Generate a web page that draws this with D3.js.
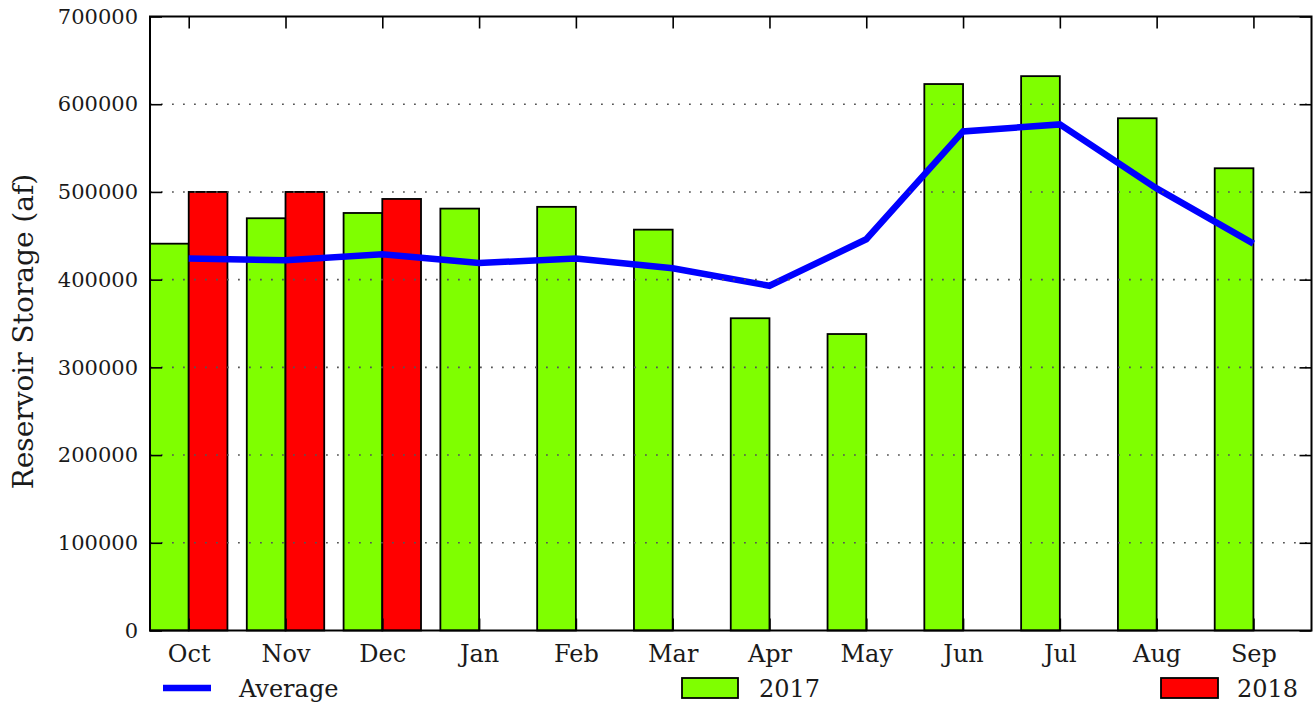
<!DOCTYPE html>
<html>
<head>
<meta charset="utf-8">
<script src="https://cdn.jsdelivr.net/npm/d3@7"></script>
<style>
  html, body { margin: 0; padding: 0; background: #fff; }
  svg { display: block; }
  text { font-family: "DejaVu Serif", "Liberation Serif", serif; fill: #1a1a1a; }
</style>
</head>
<body>
<svg id="chart" width="1314" height="704"></svg>
<script>
// Monthly reservoir storage (acre-feet), water year Oct–Sep
const months = ["Oct", "Nov", "Dec", "Jan", "Feb", "Mar", "Apr", "May", "Jun", "Jul", "Aug", "Sep"];
const storage2017 = [441000, 470000, 476000, 481000, 483000, 457000, 356000, 338000, 623000, 632000, 584000, 527000];
const storage2018 = [500000, 500000, 492000, null, null, null, null, null, null, null, null, null];
const averageStorage = [424000, 422000, 429000, 419000, 424000, 413000, 393000, 446000, 569000, 577000, 504000, 441000];
const yTicks = [0, 100000, 200000, 300000, 400000, 500000, 600000, 700000];
const yLabel = "Reservoir Storage (af)";
const legendLabels = ["Average", "2017", "2018"];

const colors = { s2017: "#7fff00", s2018: "#ff0000", avg: "#0000ff" };

const svg = d3.select("#chart");
const plot = { left: 150, right: 1311.5, top: 16.5, bottom: 630.5 };
const barWidth = 0.4;

const x = d3.scaleLinear().domain([-0.4, months.length - 0.4]).range([plot.left, plot.right]);
const y = d3.scaleLinear().domain([0, 700000]).range([plot.bottom, plot.top]);

// Bars: 2017 sits left of each month tick, 2018 to the right
const barsG = svg.append("g");
barsG.selectAll("rect.b2017")
  .data(storage2017)
  .join("rect")
  .attr("class", "b2017")
  .attr("x", (d, i) => x(i - barWidth))
  .attr("width", (d, i) => x(i) - x(i - barWidth))
  .attr("y", d => y(d))
  .attr("height", d => y(0) - y(d))
  .attr("fill", colors.s2017)
  .attr("stroke", "#000")
  .attr("stroke-width", 1.8);

barsG.selectAll("rect.b2018")
  .data(storage2018.map((v, i) => ({ v, i })).filter(d => d.v != null))
  .join("rect")
  .attr("class", "b2018")
  .attr("x", d => x(d.i))
  .attr("width", d => x(d.i + barWidth) - x(d.i))
  .attr("y", d => y(d.v))
  .attr("height", d => y(0) - y(d.v))
  .attr("fill", colors.s2018)
  .attr("stroke", "#000")
  .attr("stroke-width", 1.8);

// Average line through month ticks
const line = d3.line().x((d, i) => x(i)).y(d => y(d));
svg.append("path")
  .datum(averageStorage)
  .attr("d", line)
  .attr("fill", "none")
  .attr("stroke", colors.avg)
  .attr("stroke-width", 6.5)
  .attr("stroke-linejoin", "miter");

// Dotted horizontal grid
svg.append("g")
  .selectAll("line")
  .data(yTicks.filter(t => t > 0 && t < 700000))
  .join("line")
  .attr("x1", plot.left).attr("x2", plot.right)
  .attr("y1", d => y(d)).attr("y2", d => y(d))
  .attr("stroke", "#555")
  .attr("stroke-width", 1.6)
  .attr("stroke-dasharray", "1.8,9.2");

// Y axes (left with labels, right ticks only), ticks pointing inward
const yLeft = svg.append("g")
  .attr("transform", `translate(${plot.left},0)`)
  .call(d3.axisLeft(y).tickValues(yTicks).tickFormat(d3.format("d")).tickSizeInner(-12).tickSizeOuter(0).tickPadding(12));
yLeft.select(".domain").remove();
yLeft.selectAll(".tick line").attr("stroke", "#000").attr("stroke-width", 1.6);
yLeft.selectAll(".tick text").style("font-size", "21px").attr("fill", "#1a1a1a");

const yRight = svg.append("g")
  .attr("transform", `translate(${plot.right},0)`)
  .call(d3.axisRight(y).tickValues(yTicks).tickFormat("").tickSizeInner(-12).tickSizeOuter(0));
yRight.select(".domain").remove();
yRight.selectAll(".tick line").attr("stroke", "#000").attr("stroke-width", 1.6);

// X axes: month labels below, inward ticks on top and bottom
const monthIdx = d3.range(months.length);
const xBottom = svg.append("g")
  .attr("transform", `translate(0,${plot.bottom})`)
  .call(d3.axisBottom(x).tickValues(monthIdx).tickFormat(i => months[i]).tickSizeInner(-12).tickSizeOuter(0).tickPadding(14));
xBottom.select(".domain").remove();
xBottom.selectAll(".tick line").attr("stroke", "#000").attr("stroke-width", 1.6);
xBottom.selectAll(".tick text").style("font-size", "24px").attr("fill", "#1a1a1a");

const xTop = svg.append("g")
  .attr("transform", `translate(0,${plot.top})`)
  .call(d3.axisTop(x).tickValues(monthIdx).tickFormat("").tickSizeInner(-12).tickSizeOuter(0));
xTop.select(".domain").remove();
xTop.selectAll(".tick line").attr("stroke", "#000").attr("stroke-width", 1.6);

// Plot frame
svg.append("rect")
  .attr("x", plot.left).attr("y", plot.top)
  .attr("width", plot.right - plot.left).attr("height", plot.bottom - plot.top)
  .attr("fill", "none").attr("stroke", "#000").attr("stroke-width", 2);

// Y axis title
svg.append("text")
  .attr("transform", `translate(33,${(plot.top + plot.bottom) / 2 + 8}) rotate(-90)`)
  .attr("text-anchor", "middle")
  .style("font-size", "28px")
  .text(yLabel);

// Legend row beneath the axes
const legend = svg.append("g");
const legendY = 688;
const legendItems = [
  { label: legendLabels[0], type: "line", color: colors.avg, x0: 163, x1: 211, tx: 239 },
  { label: legendLabels[1], type: "patch", color: colors.s2017, x0: 682, x1: 738, tx: 759 },
  { label: legendLabels[2], type: "patch", color: colors.s2018, x0: 1161, x1: 1218, tx: 1237 }
];
legendItems.forEach(item => {
  if (item.type === "line") {
    legend.append("line")
      .attr("x1", item.x0).attr("x2", item.x1)
      .attr("y1", legendY).attr("y2", legendY)
      .attr("stroke", item.color).attr("stroke-width", 6.5);
  } else {
    legend.append("rect")
      .attr("x", item.x0).attr("y", legendY - 10)
      .attr("width", item.x1 - item.x0).attr("height", 20)
      .attr("fill", item.color).attr("stroke", "#000").attr("stroke-width", 1.8);
  }
  legend.append("text")
    .attr("x", item.tx).attr("y", legendY + 9)
    .style("font-size", "24px")
    .text(item.label);
});
</script>
</body>
</html>
